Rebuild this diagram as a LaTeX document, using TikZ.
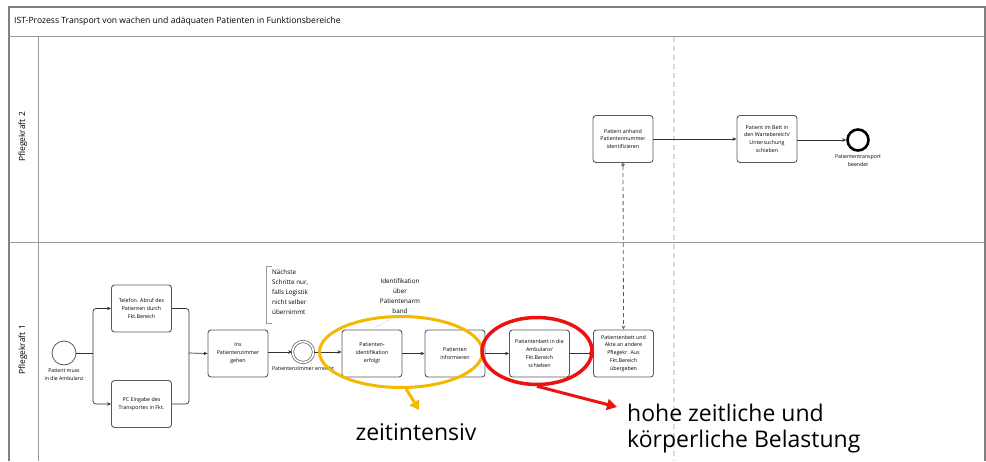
\documentclass[tikz,border=0pt]{standalone}
\usepackage{fontspec}
\setmainfont{Open Sans}
\usetikzlibrary{arrows.meta,shapes.geometric}
\definecolor{lanegray}{HTML}{9A9A9A}
\definecolor{boxgray}{HTML}{5A5A5A}
\definecolor{hlyellow}{HTML}{F5B800}
\definecolor{hlred}{HTML}{EE1111}
\begin{document}
\begin{tikzpicture}[x=1pt,y=-1pt,
  task/.style={draw=boxgray, line width=0.9pt, rounded corners=3pt, minimum width=60pt, minimum height=47pt, align=center, font=\fontsize{5.3}{7.9}\selectfont, inner sep=1pt, fill=white},
  seqline/.style={draw=black!80, line width=0.7pt},
  flow/.style={seqline, -{Stealth[length=4pt,width=3.5pt]}},
  small/.style={font=\fontsize{5.2}{8}\selectfont, align=center, inner sep=0pt},
  annot/.style={font=\fontsize{6.3}{10}\selectfont, inner sep=0pt},
  lane/.style={draw=lanegray, line width=1pt},
  big/.style={font=\fontsize{23}{26}\selectfont, inner sep=0pt}
]
\useasboundingbox (0,0) rectangle (986,461);
% frame and lanes
\draw[lane, line width=1.3pt, draw=gray] (9,461) -- (9,7) -- (985,7) -- (985,461);
\draw[lane] (9,36) -- (985,36);
\draw[lane] (38,36) -- (38,461);
\draw[lane] (9,242) -- (985,242);
\draw[gray!30, line width=1.2pt, dash pattern=on 5pt off 4pt] (674,37) -- (674,461);
\node[anchor=west, font=\fontsize{8.6}{9}\selectfont, inner sep=0pt] (title) at (14,21) {IST-Prozess Transport von wachen und adäquaten Patienten in Funktionsbereiche};
\node[rotate=90, font=\fontsize{8.5}{9}\selectfont] (lane2) at (23,137) {Pflegekraft 2};
\node[rotate=90, font=\fontsize{8.5}{9}\selectfont] (lane1) at (23,350) {Pflegekraft 1};

% top lane
\node[task] (anh) at (623,139) {Patient anhand\\Patientennummer\\identifizieren};
\node[task] (wart) at (767,139) {Patient im Bett in\\den Wartebereich/\\Untersuchung\\schieben};
\node[circle, draw=black, line width=2.6pt, minimum size=21pt, inner sep=0pt] (end) at (858,140) {};
\node[small, below=3pt] (endlbl) at (end.south) {Patiententransport\\beendet};

% bottom lane
\node[circle, draw=boxgray, line width=0.8pt, minimum size=24pt, inner sep=0pt] (start) at (64,353) {};
\node[small, below=3pt] (startlbl) at (start.south) {Patient muss\\in die Ambulanz};
\node[task] (tel) at (141.5,308.5) {Telefon. Abruf des\\Patienten durch\\Fkt.Bereich};
\node[task] (pc) at (141.5,404) {PC Eingabe des\\Transportes in Fkt.};
\node[task] (ins) at (238,353.5) {Ins\\Patientenzimmer\\gehen};
\node[circle, draw=boxgray, line width=0.7pt, double, double distance=1.6pt, minimum size=21pt, inner sep=0pt] (zim) at (303,352) {};
\node[small, below=3pt] (zimlbl) at (zim.south) {Patientenzimmer erreicht};
\node[task] (pid) at (372,353.5) {Patienten-\\identifikation\\erfolgt};
\node[task] (inf) at (455,353.5) {Patienten\\informieren};
\node[task] (bett) at (539.5,353.5) {Patientenbett in die\\Ambulanz/\\Fkt.Bereich\\schieben};
\node[task] (akte) at (623.5,353.5) {Patientenbett und\\Akte an andere\\Pflegekr. Aus\\Fkt.Bereich\\übergeben};

\coordinate (split) at (93,353);
\coordinate (join) at (189,353);
\draw[seqline] (start.east) -- (split);
\draw[flow, rounded corners=3pt] (split) |- (tel.west);
\draw[flow, rounded corners=3pt] (split) |- (pc.west);
\draw[seqline, rounded corners=3pt] (tel.east) -| (join);
\draw[seqline, rounded corners=3pt] (pc.east) -| (join);
\draw[flow] (join) -- (ins.west);
\draw[flow] (ins.east |- zim) -- (zim.west);
\draw[flow] (zim.east) -- (pid.west |- zim);
\draw[flow] (pid) -- (inf);
\draw[flow] (inf) -- (bett);
\draw[flow] (bett) -- (akte);
\draw[flow] (anh) -- (wart);
\draw[flow] (wart.east |- end) -- (end.west);
\draw[boxgray, line width=0.8pt, dash pattern=on 4pt off 3pt, {Circle[open,length=3.5pt]}-{Stealth[length=4pt,width=3.5pt]}] (anh.south) -- (akte.north);

% annotations
\draw[lanegray, line width=0.8pt] (272,266) -- (266,266) -- (266,323) -- (272,323);
\node[annot, anchor=north west, align=left] (note1) at (272,270) {Nächste\\Schritte nur,\\falls Logistik\\nicht selber\\übernimmt};
\node[annot, align=center] (note2) at (400,296) {Identifikation\\über\\Patientenarm\\band};
\draw[lanegray, line width=0.6pt, dotted] (note2.south) -- (pid.north);

% highlights
\node[ellipse, draw=hlyellow, line width=3pt, minimum width=163pt, minimum height=71pt] (yel) at (401,352) {};
\node[ellipse, draw=hlred, line width=3.5pt, minimum width=110pt, minimum height=67pt] (red) at (537,351) {};
\coordinate (yelend) at (419,410);
\coordinate (redend) at (617,407);
\draw[hlyellow, line width=3pt, -{Triangle[length=9pt,width=11pt]}] (yel.-82) -- (yelend);
\draw[hlred, line width=3pt, -{Triangle[length=10pt,width=11pt]}] (red.-90) -- (redend);
\node[big] (zeit) at (416,432) {zeitintensiv};
\node[big, anchor=west, align=left] (hohe) at (627,429) {hohe zeitliche und\\körperliche Belastung};
\end{tikzpicture}
\end{document}
